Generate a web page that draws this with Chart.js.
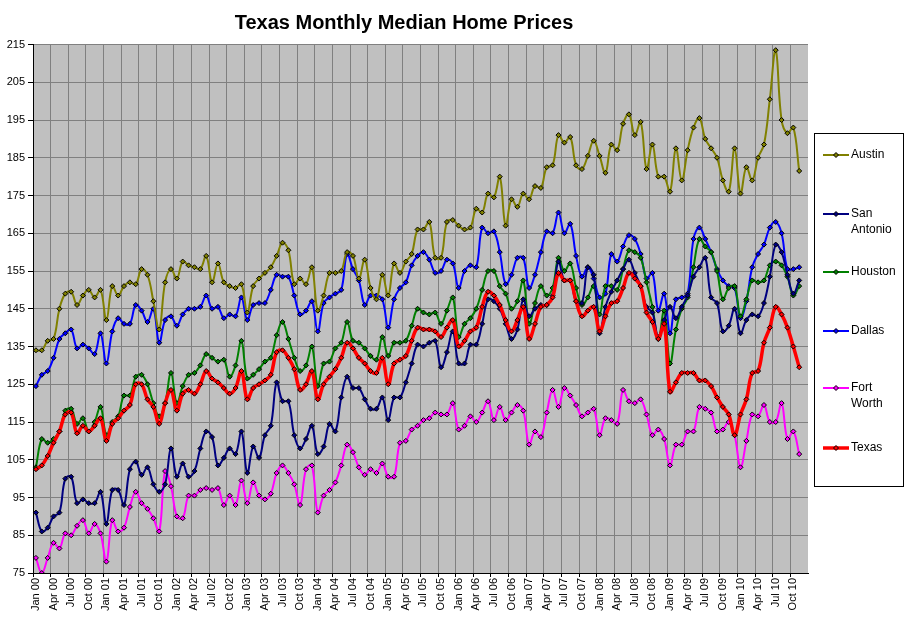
<!DOCTYPE html>
<html lang="en">
<head>
<meta charset="UTF-8">
<title>Texas Monthly Median Home Prices</title>
<script src="https://cdn.jsdelivr.net/npm/chart.js"></script>
<style>
  html, body { margin: 0; padding: 0; background: #fff; }
  #wrap { width: 911px; height: 623px; }
</style>
</head>
<body>
<div id="wrap"><canvas id="homeChart" width="911" height="623"></canvas></div>
<script>
// month labels Jan 00 .. Dec 10 (Dec 10 has no value yet)
const monthNames = ["Jan", "Feb", "Mar", "Apr", "May", "Jun", "Jul", "Aug", "Sep", "Oct", "Nov", "Dec"];
const yearCodes = ["00", "01", "02", "03", "04", "05", "06", "07", "08", "09", "10"];
const months = [];
yearCodes.forEach(y => monthNames.forEach(m => months.push(m + " " + y)));

const cities = ["Austin", "San Antonio", "Houston", "Dallas", "Fort Worth", "Texas"];
const cityColors = ["#808000", "#000080", "#008000", "#0000ff", "#ff00ff", "#ff0000"];

// median prices, $ thousands
const austin = [
  134, 134, 136.5, 137, 145, 149, 149.5, 146, 148.5, 150, 148, 150,
  142, 151, 148.5, 151, 152, 151.5, 155.5, 154, 147, 139.5, 152, 155.5,
  153, 157.5, 156.5, 156, 155.5, 159, 152, 157, 152, 151, 150.5, 151.5,
  144, 151, 153, 154.5, 156, 159, 162.5, 160.5, 151.5, 153, 151.5, 156,
  144.5, 148.5, 154.5, 154.5, 155, 160, 159, 153, 158, 150.5, 147.5, 154,
  148.5, 157, 154.5, 157.5, 159.5, 166, 166, 168, 158.5, 158.5, 168, 168.5,
  167, 166, 166.5, 171.5, 170.5, 175.5, 174.5, 180, 167, 174, 172, 175.5,
  174, 177.5, 177, 182.5, 183, 191, 189, 190.5, 183, 182, 185.5, 189.5,
  185.5, 181, 188.5, 187, 194, 196.5, 191, 194.5, 182, 188.5, 180, 180,
  176, 187.5, 179, 187, 193, 195.5, 190, 187.5, 185, 179, 176, 187.5,
  175.5, 182.5, 179, 185, 188.5, 200.5, 213.5, 195, 191.5, 193, 181.5
];
const sanAntonio = [
  91, 86, 87, 90, 91, 100, 100.5, 93.5, 94.5, 93.5, 93.5, 96.5,
  88, 97, 97, 93, 102.5, 104.5, 101, 103, 98.5, 96.5, 98.5, 108,
  100.5, 104, 100.5, 102, 108, 112.5, 111, 103.5, 105.5, 108, 106.5, 112.5,
  101.5, 108.5, 105.5, 111.5, 114, 125.5, 120.5, 120.5, 111.5, 108, 110.5, 114,
  106.5, 108.5, 114.5, 112.5, 121.5, 127, 124, 124, 121, 118.5, 118.5, 121.5,
  115.5, 121.5, 121.5, 125.5, 130.5, 135.5, 135, 136, 136.5, 129.5, 133.5, 139,
  130.5, 130.5, 135.5, 135.5, 141, 147.5, 147, 145, 141, 137, 139.5, 147.5,
  143, 145, 146, 146, 148.5, 157.5, 152.5, 152.5, 147, 146.5, 156, 154,
  138.5, 145.5, 149.5, 152.5, 155.5, 158, 154.5, 151, 145.5, 144, 137.5, 142,
  145.5, 142.5, 145.5, 148.5, 153.5, 156, 158.5, 148, 146.5, 139, 140.5, 145,
  138.5, 142, 143.5, 143, 146.5, 153.5, 162, 160, 154, 149, 152.5
];
const houston = [
  103, 110.5, 109.5, 110.5, 112.5, 118, 118.5, 114.5, 116, 112.5, 115, 119,
  111.5, 115, 116.5, 122, 122, 127, 127.5, 125, 120, 116.5, 120, 128,
  120, 124.5, 127.5, 128, 130, 133, 132, 131, 131.5, 127, 130, 136.5,
  126.5, 127.5, 129, 131, 132, 138, 141.5, 137, 132, 128.5, 130, 135,
  124.5, 130.5, 131, 134.5, 136, 141.5, 136.5, 136, 134.5, 132.5, 131.5, 137.5,
  132.5, 136, 136, 136.5, 140.5, 145, 144, 143.5, 144, 141, 144.5, 148,
  137.5, 141, 142.5, 145, 150, 155, 155, 151, 149, 145, 147, 152.5,
  141, 146.5, 151, 148.5, 150.5, 158.5, 155, 157, 150.5, 146, 148, 151,
  143.5, 151, 151, 150, 155.5, 160.5, 160, 158.5, 152, 145.5, 137, 144.5,
  130.5, 139.5, 145, 148, 156, 163.5, 161.5, 160, 155, 147.5, 150.5, 151,
  143, 147.5, 152.5, 152, 152.5, 156.5, 157.5, 156.5, 153.5, 148.5, 151
];
const dallas = [
  124.5, 127.5, 128.5, 132, 137, 138.5, 139.5, 134.5, 135.5, 134.5, 133, 138.5,
  130.5, 139, 142.5, 141, 141, 146, 144.5, 141.5, 145, 136, 142, 143,
  140.5, 143.5, 145, 145, 145.5, 148.5, 145, 145.5, 142.5, 143.5, 143, 148,
  142, 146, 146.5, 146.5, 150, 154, 153.5, 153.5, 148.5, 143.5, 144.5, 147,
  139, 146.5, 148, 149, 150, 159.5, 155.5, 152.5, 146, 148.5, 148.5, 147.5,
  140, 147.5, 150.5, 152, 156.5, 159, 160, 158, 154.5, 155, 158, 157,
  150.5, 155, 156.5, 156, 166.5, 165, 165.5, 160, 151.5, 154, 158.5, 158.5,
  150.5, 154, 160, 165.5, 165, 170.5, 165, 167.5, 159, 153.5, 156, 153,
  148, 149, 159.5, 157.5, 161.5, 164.5, 163.5, 159.5, 153, 154.5, 144.5, 149,
  138.5, 147.5, 148, 149, 163.5, 166.5, 163.5, 160, 155.5, 152.5, 151, 150.5,
  142.5, 147, 156, 159.5, 162, 166.5, 168, 165, 155.5, 155.5, 156
];
const fortWorth = [
  79, 75, 79, 83, 81.5, 85.5, 85, 87.5, 89, 85.5, 88, 85.5,
  78, 89, 86, 87, 92.5, 96.5, 93.5, 92, 89.5, 86, 102, 98,
  90, 89.5, 95.5, 95.5, 97, 97.5, 97, 97.5, 93, 95.5, 93, 99.5,
  93.5, 99, 95.5, 94.5, 96, 101.5, 103.5, 101.5, 98.5, 93, 102.5, 103.5,
  91, 95.5, 97, 99, 103.5, 109, 107, 103, 101, 102.5, 101.5, 104,
  100.5, 100.5, 109.5, 110, 113, 114, 115.5, 116, 117.5, 117, 117, 120,
  113, 114, 116.5, 115, 117.5, 120.5, 115.5, 119, 115.5, 117.5, 119.5, 118,
  109, 112.5, 111, 117.5, 123.5, 119, 124, 122, 119.5, 116.5, 117.5, 118.5,
  111.5, 116, 115.5, 114.5, 123.5, 120.5, 120, 121, 117, 111.5, 113, 110.5,
  103.5, 109, 109, 112.5, 112.5, 119, 118.5, 117.5, 112.5, 113, 115, 111.5,
  103, 110, 117, 116.5, 119.5, 115, 115, 120, 110.5, 112.5, 106.5
];
const texas = [
  102.5, 103.5, 106, 109.5, 112.5, 117, 117.5, 112, 114, 112.5, 114, 116,
  110, 114.5, 116, 118, 119.5, 125, 125, 121, 119, 114.5, 120, 123.5,
  118, 122.5, 123.5, 122.5, 125, 128.5, 126.5, 125.5, 124, 122.5, 124, 128.5,
  121, 124, 125, 126, 127.5, 133.5, 134, 132, 129, 123.5, 125, 128.5,
  121, 125, 127, 129, 132, 136, 134.5, 132, 130.5, 128.5, 128, 132,
  125, 130.5, 131.5, 132.5, 136.5, 140, 139.5, 139.5, 139, 137.5, 140, 142,
  135, 136.5, 139, 140, 145.5, 149.5, 148.5, 146, 142, 139, 142, 145.5,
  137, 141, 145.5, 146, 148, 154.5, 152.5, 152.5, 147, 143, 144.5, 145.5,
  139, 143, 146.5, 147, 150.5, 154.5, 153, 151, 144, 141.5, 137, 141,
  123, 125.5, 128, 128, 128, 126, 126, 124.5, 121.5, 119, 117, 111.5,
  117, 121, 128, 128.5, 136, 140, 145.5, 143.5, 140, 135, 129.5
];
const series = [austin, sanAntonio, houston, dallas, fortWorth, texas];

// grey plot area, like the spreadsheet chart
const plotBackground = {
  id: 'plotBackground',
  beforeDraw(chart) {
    const { ctx, chartArea: a } = chart;
    ctx.save();
    ctx.fillStyle = '#ffffff';
    ctx.fillRect(0, 0, chart.width, chart.height);
    ctx.fillStyle = '#c0c0c0';
    ctx.fillRect(a.left, a.top, a.right - a.left, a.bottom - a.top);
    ctx.restore();
  }
};

// boxed legend on the right with wrapped names
const legendRows = [155, 214, 272, 331, 388, 448];
const sideLegend = {
  id: 'sideLegend',
  afterDraw(chart) {
    const ctx = chart.ctx;
    ctx.save();
    ctx.fillStyle = '#ffffff';
    ctx.fillRect(814.5, 133.5, 89, 353);
    ctx.strokeStyle = '#000000';
    ctx.lineWidth = 1;
    ctx.strokeRect(814.5, 133.5, 89, 353);
    chart.data.datasets.forEach((ds, i) => {
      const y = legendRows[i];
      ctx.strokeStyle = ds.borderColor;
      ctx.lineWidth = ds.borderWidth;
      ctx.beginPath();
      ctx.moveTo(823, y);
      ctx.lineTo(849, y);
      ctx.stroke();
      ctx.beginPath();
      ctx.moveTo(833.5, y); ctx.lineTo(836, y - 2.5); ctx.lineTo(838.5, y); ctx.lineTo(836, y + 2.5); ctx.closePath();
      ctx.fillStyle = ds.borderColor;
      ctx.fill();
      ctx.strokeStyle = '#000';
      ctx.lineWidth = 1;
      ctx.stroke();
      ctx.fillStyle = '#000';
      ctx.font = '12px Arial, "Liberation Sans", sans-serif';
      ctx.textBaseline = 'middle';
      ctx.textAlign = 'left';
      const words = cities[i] === 'San Antonio' || cities[i] === 'Fort Worth' ? cities[i].split(' ') : [cities[i]];
      words.forEach((w, k) => ctx.fillText(w, 851, y + k * 16));
    });
    ctx.restore();
  }
};

const ctx = document.getElementById('homeChart').getContext('2d');
new Chart(ctx, {
  type: 'line',
  data: {
    labels: months,
    datasets: cities.map((name, i) => ({
      label: name,
      data: series[i],
      borderColor: cityColors[i],
      backgroundColor: cityColors[i],
      borderWidth: name === 'Texas' ? 3.5 : 2,
      tension: 0.4,
      pointStyle: 'rectRot',
      pointRadius: 2.5,
      pointBorderWidth: 1,
      pointBorderColor: '#000000',
      pointBackgroundColor: cityColors[i],
      fill: false,
      order: name === 'Texas' ? 0 : i + 1
    }))
  },
  options: {
    responsive: false,
    animation: false,
    devicePixelRatio: 1,
    events: [],
    layout: { padding: { left: 0, right: 103, top: 0, bottom: 0 } },
    plugins: {
      legend: { display: false },
      tooltip: { enabled: false },
      title: {
        display: true,
        text: 'Texas Monthly Median Home Prices',
        color: '#000',
        font: { family: 'Arial, "Liberation Sans", sans-serif', size: 20, weight: 'bold', lineHeight: 1.2 },
        padding: { top: 11, bottom: 9.5 }
      }
    },
    scales: {
      x: {
        offset: true,
        afterFit(scale) { scale.height = 50; },
        grid: {
          offset: true,
          drawTicks: true,
          tickLength: 4,
          color: c => (c.index % 3 === 0 ? '#808080' : 'rgba(0,0,0,0)'),
          tickColor: c => (c.index % 3 === 0 ? '#000000' : 'rgba(0,0,0,0)')
        },
        border: { color: '#000000', width: 1 },
        ticks: {
          autoSkip: false,
          minRotation: 90,
          maxRotation: 90,
          padding: 1,
          color: '#000',
          font: { family: 'Arial, "Liberation Sans", sans-serif', size: 11 },
          callback: (v, i) => (i % 3 === 0 ? months[i] : '')
        }
      },
      y: {
        min: 75,
        max: 215,
        afterFit(scale) { scale.width = 33; },
        grid: { color: '#808080', tickLength: 5, tickColor: '#000000' },
        border: { color: '#000000', width: 1 },
        ticks: {
          stepSize: 10,
          padding: 3,
          color: '#000',
          font: { family: 'Arial, "Liberation Sans", sans-serif', size: 11 }
        }
      }
    }
  },
  plugins: [plotBackground, sideLegend]
});
</script>
</body>
</html>
